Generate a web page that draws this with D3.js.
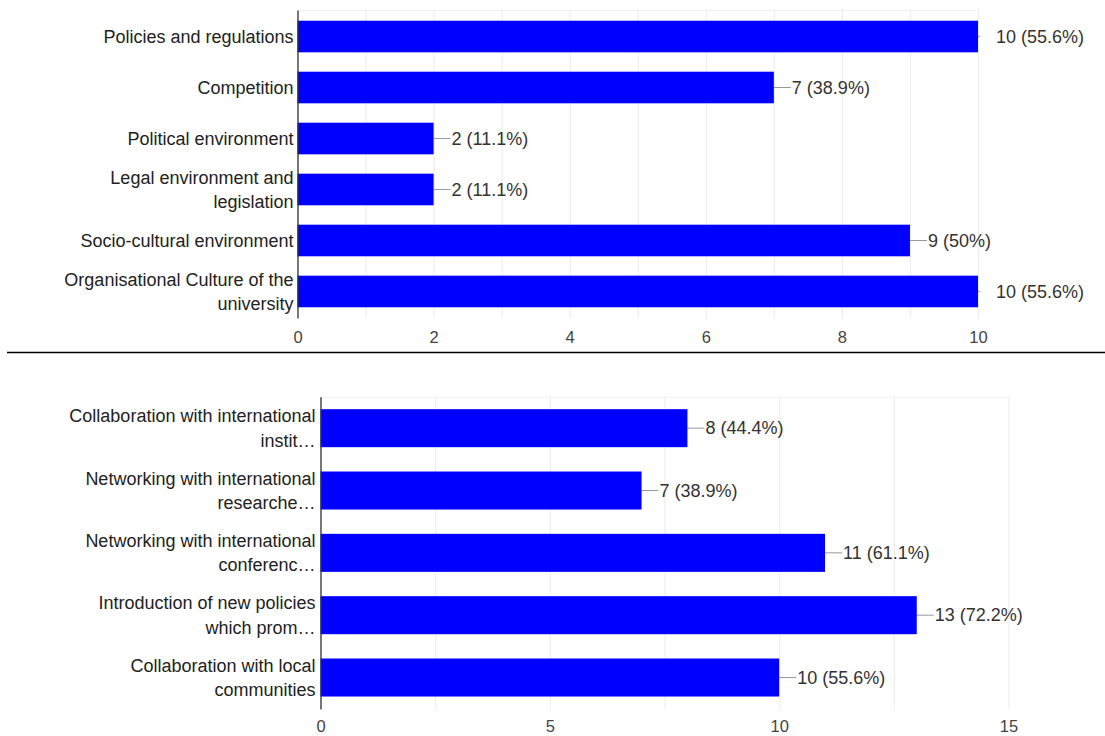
<!DOCTYPE html>
<html>
<head>
<meta charset="utf-8">
<script src="https://cdn.jsdelivr.net/npm/d3@7"></script>
<style>
  body { margin: 0; background: #fff; }
  svg { display: block; font-family: "Liberation Sans", Arial, sans-serif; }
</style>
</head>
<body>
<script>
// ---- data: first chart ----
const topCategories = [
  "Policies and regulations",
  "Competition",
  "Political environment",
  "Legal environment and\nlegislation",
  "Socio-cultural environment",
  "Organisational Culture of the\nuniversity"
];
const topValues = [10, 7, 2, 2, 9, 10];
const topPercents = ["55.6%", "38.9%", "11.1%", "11.1%", "50%", "55.6%"];
const topTicks = [0, 2, 4, 6, 8, 10];
const topGrid = [0, 1, 2, 3, 4, 5, 6, 7, 8, 9, 10];

// ---- data: second chart ----
const bottomCategories = [
  "Collaboration with international\ninstit\u2026",
  "Networking with international\nresearche\u2026",
  "Networking with international\nconferenc\u2026",
  "Introduction of new policies\nwhich prom\u2026",
  "Collaboration with local\ncommunities"
];
const bottomValues = [8, 7, 11, 13, 10];
const bottomPercents = ["44.4%", "38.9%", "61.1%", "72.2%", "55.6%"];
const bottomTicks = [0, 5, 10, 15];
const bottomGrid = [0, 2.5, 5, 7.5, 10, 12.5, 15];

const width = 1105;
const height = 736;
const labelSize = 18;
const tickSize = 16.5;

const svg = d3.select('body')
  .append('svg')
  .attr('width', width)
  .attr('height', height);

svg.append('rect')
  .attr('width', width)
  .attr('height', height)
  .attr('fill', '#fff');

function drawChart(opts) {
  const { categories, values, percents, ticks, grid, max, left, right, top, bottom, padInner, padOuter, tickLabelY, labelGap, id } = opts;

  const x = d3.scaleLinear().domain([0, max]).range([left, right]);
  const y = d3.scaleBand()
    .domain(categories)
    .range([top, bottom])
    .paddingInner(padInner)
    .paddingOuter(padOuter);

  const g = svg.append('g');

  // faint plot frame on top
  g.append('line')
    .attr('x1', left).attr('x2', right + 1)
    .attr('y1', top + 0.5).attr('y2', top + 0.5)
    .attr('stroke', '#f2f2f2');

  // gridlines
  g.append('g')
    .attr('transform', `translate(0, ${bottom})`)
    .call(d3.axisBottom(x).tickValues(grid).tickSize(-(bottom - top)).tickFormat(''))
    .call(a => a.select('.domain').remove())
    .call(a => a.selectAll('line').attr('stroke', '#ebebeb'));

  // tick labels
  g.append('g')
    .attr('transform', `translate(0, ${tickLabelY})`)
    .call(d3.axisBottom(x).tickValues(ticks).tickSize(0).tickPadding(0).tickFormat(d3.format('d')))
    .call(a => a.select('.domain').remove())
    .call(a => a.selectAll('text')
      .attr('y', 0)
      .attr('dy', '0.35em')
      .attr('fill', '#444')
      .style('font-size', tickSize + 'px'));

  // clip leader lines to the plot area
  svg.append('clipPath')
    .attr('id', id)
    .append('rect')
    .attr('x', left).attr('y', top)
    .attr('width', right - left + 2).attr('height', bottom - top);

  const rows = categories.map((c, i) => ({ c, v: values[i], p: percents[i] }));

  // leader lines
  g.append('g')
    .attr('clip-path', `url(#${id})`)
    .selectAll('line')
    .data(rows)
    .enter()
    .append('line')
    .attr('x1', d => x(d.v))
    .attr('x2', d => x(d.v) + 17)
    .attr('y1', d => y(d.c) + y.bandwidth() / 2)
    .attr('y2', d => y(d.c) + y.bandwidth() / 2)
    .attr('stroke', '#999')
    .attr('stroke-width', 1);

  // bars
  g.append('g')
    .selectAll('rect')
    .data(rows)
    .enter()
    .append('rect')
    .attr('x', x(0))
    .attr('y', d => y(d.c))
    .attr('width', d => x(d.v) - x(0))
    .attr('height', y.bandwidth())
    .attr('fill', '#0000ff');

  // value labels
  g.append('g')
    .selectAll('text')
    .data(rows)
    .enter()
    .append('text')
    .attr('x', d => x(d.v) + 18)
    .attr('y', d => y(d.c) + y.bandwidth() / 2)
    .attr('dy', '0.35em')
    .attr('fill', '#333')
    .style('font-size', labelSize + 'px')
    .text(d => `${d.v} (${d.p})`);

  // category axis
  const yAxis = g.append('g')
    .attr('transform', `translate(${left}, 0)`)
    .call(d3.axisLeft(y).tickSize(0).tickPadding(labelGap));

  yAxis.select('.domain')
    .attr('stroke', '#333')
    .attr('stroke-width', 1.3);

  yAxis.selectAll('text')
    .attr('fill', '#222')
    .style('font-size', labelSize + 'px')
    .attr('dy', null)
    .each(function (d) {
      const lines = d.split('\n');
      const t = d3.select(this).text(null);
      const lh = 24.5;
      lines.forEach((ln, i) => {
        t.append('tspan')
          .attr('x', -labelGap)
          .attr('dy', i === 0 ? `${0.35 * labelSize - (lines.length - 1) * lh / 2}px` : `${lh}px`)
          .text(ln);
      });
    });
}

drawChart({
  id: 'clipTop',
  categories: topCategories,
  values: topValues,
  percents: topPercents,
  ticks: topTicks,
  grid: topGrid,
  max: 10,
  left: 297.5,
  right: 978,
  top: 10,
  bottom: 318,
  padInner: 0.38,
  padOuter: 0.21,
  tickLabelY: 337,
  labelGap: 4
});

// separator between the two charts
svg.append('line')
  .attr('x1', 7).attr('x2', width)
  .attr('y1', 352.5).attr('y2', 352.5)
  .attr('stroke', '#000')
  .attr('stroke-width', 1.5);

drawChart({
  id: 'clipBottom',
  categories: bottomCategories,
  values: bottomValues,
  percents: bottomPercents,
  ticks: bottomTicks,
  grid: bottomGrid,
  max: 15,
  left: 320.5,
  right: 1008.5,
  top: 396.7,
  bottom: 709,
  padInner: 0.39,
  padOuter: 0.2,
  tickLabelY: 726,
  labelGap: 5
});
</script>
</body>
</html>
